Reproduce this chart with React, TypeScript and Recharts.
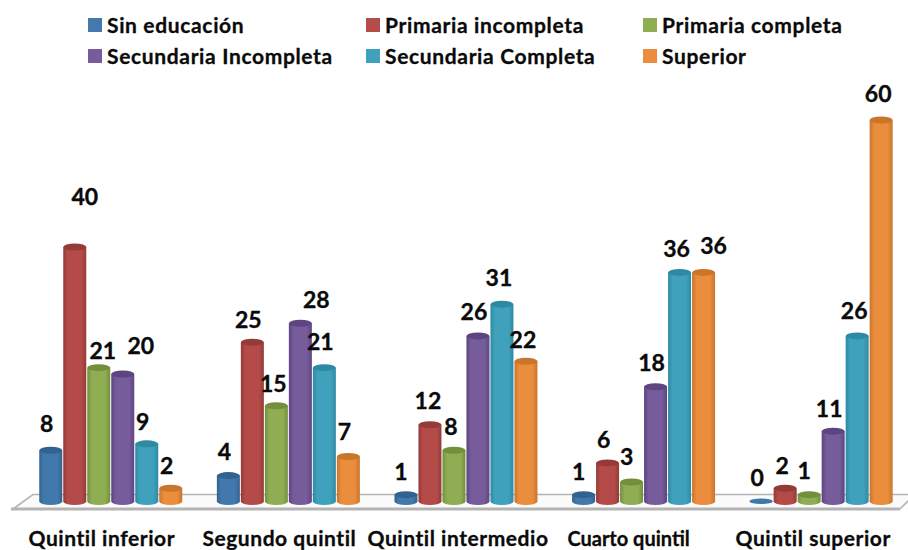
import { BarChart, Bar, XAxis, YAxis, LabelList, Legend, Customized } from "recharts"

const categories = ["Quintil inferior", "Segundo quintil", "Quintil intermedio", "Cuarto quintil", "Quintil superior"]
const sinEducacion = [8, 4, 1, 1, 0]
const primariaIncompleta = [40, 25, 12, 6, 2]
const primariaCompleta = [21, 15, 8, 3, 1]
const secundariaIncompleta = [20, 28, 26, 18, 11]
const secundariaCompleta = [9, 21, 31, 36, 26]
const superior = [2, 7, 22, 36, 60]

const seriesNames = ["Sin educación", "Primaria incompleta", "Primaria completa", "Secundaria Incompleta", "Secundaria Completa", "Superior"]
const seriesValues = [sinEducacion, primariaIncompleta, primariaCompleta, secundariaIncompleta, secundariaCompleta, superior]
const seriesColors = ["#4379ad", "#b54c4a", "#8fae52", "#775b9c", "#3fa1bc", "#ea8d3e"]
const seriesDark = ["#33628f", "#943a38", "#738f3e", "#5c4580", "#2f8aa3", "#c9752c"]

// hand placed data labels, the original chart had them dragged around
const labelNudgeX = [
  [-4, -4, -5, -5, -4],
  [10, -4, -2, -4, -3],
  [4, -3, -3, -5, -5],
  [18, 16, -4, -4, -4],
  [-4, -4, -3, -3, -3],
  [-4, -4, -3, 10, -3],
]
const labelNudgeY = [
  [-27, -25, -24, -24, -24],
  [-51, -23, -25, -24, -23],
  [-18, -23, -24, -26, -25],
  [-29, -24, -25, -25, -23],
  [-23, -27, -27, -24, -26],
  [-23, -26, -22, -27, -27],
]
const tickNudgeX = [-8, -8, -7, -14, -7]
const tickFontSize = [21, 21, 21, 20, 21]
const tickSpacing = [0.55, 0.55, 0.55, 0, 0.55]

const data = categories.map((name, i) => {
  const row: Record<string, string | number> = { name }
  seriesNames.forEach((s, k) => {
    row[s] = seriesValues[k][i]
  })
  return row
})

const FONT = "Lato, Carlito, sans-serif"

function cylinder(k: number) {
  return function CylinderBar(props: any) {
    const { x, y, width, height } = props
    const ry = height < 1 ? 2.5 : 3.5
    const bottom = y + height + 0.5
    const left = x + 0.5
    const right = x + width - 0.5
    const rx = (right - left) / 2
    const cx = left + rx
    return (
      <g filter="url(#soften)">
        <path
          d={`M${left},${y} L${left},${bottom} A${rx},${ry} 0 0 0 ${right},${bottom} L${right},${y} Z`}
          fill={`url(#cyl${k})`}
        />
        <ellipse cx={cx} cy={y} rx={rx} ry={ry} fill={height < 1 ? seriesColors[k] : seriesDark[k]} />
      </g>
    )
  }
}

function dataLabel(k: number) {
  return function DataLabel(props: any) {
    const { x, y, width, value, index } = props
    return (
      <text
        x={x + width / 2 + labelNudgeX[k][index]}
        y={y + labelNudgeY[k][index]}
        textAnchor="middle"
        dominantBaseline="central"
        fontFamily={FONT}
        fontWeight={700}
        fontSize={23}
        stroke="#0a0a0a"
        strokeWidth={0.35}
        fill="#0a0a0a"
      >
        {value}
      </text>
    )
  }
}

function CategoryTick(props: any) {
  const { x, payload, index } = props
  return (
    <text
      x={x + tickNudgeX[index]}
      y={537.5}
      textAnchor="middle"
      dominantBaseline="central"
      fontFamily={FONT}
      fontWeight={700}
      fontSize={tickFontSize[index]}
      letterSpacing={tickSpacing[index]}
      stroke="#0a0a0a"
      strokeWidth={0.3}
      fill="#0a0a0a"
    >
      {payload.value}
    </text>
  )
}

function Floor() {
  return (
    <g fill="none" stroke="#b4b4b4">
      <polygon points="13,509 33,494.5 912,494.5 912,494.5 900,509" fill="#fbfbfb" stroke="none" />
      <polyline points="13,509 33,494.5 912,494.5" strokeWidth={1.6} />
      <polyline points="900,509 910,499" strokeWidth={1.6} />
      <line x1={11} y1={509} x2={900} y2={509} strokeWidth={3} />
    </g>
  )
}

function Defs() {
  return (
    <defs>
      <filter id="soften" x="-10%" y="-10%" width="120%" height="120%">
        <feGaussianBlur stdDeviation={0.5} />
      </filter>
      {seriesColors.map((c, k) => (
        <linearGradient id={`cyl${k}`} key={c} x1="0" y1="0" x2="1" y2="0">
          <stop offset="0%" stopColor={seriesDark[k]} />
          <stop offset="20%" stopColor={c} />
          <stop offset="78%" stopColor={c} />
          <stop offset="100%" stopColor={seriesDark[k]} />
        </linearGradient>
      ))}
    </defs>
  )
}

function LegendBox() {
  return (
    <div
      style={{
        display: "grid",
        gridTemplateColumns: "278px 277px 200px",
        rowGap: 7,
        fontFamily: FONT,
        fontWeight: 700,
        fontSize: 21,
        letterSpacing: 0.65,
        lineHeight: "24px",
        color: "#0a0a0a",
        textAlign: "left",
        WebkitTextStroke: "0.3px #0a0a0a",
      }}
    >
      {seriesNames.map((s, k) => (
        <div key={s} style={{ display: "flex", alignItems: "center", whiteSpace: "nowrap" }}>
          <span style={{ width: 14, height: 14, background: seriesColors[k], marginRight: 5 }} />
          {s}
        </div>
      ))}
    </div>
  )
}

export default function App() {
  return (
    <div style={{ position: "absolute", left: 0, top: 0, width: 908, height: 550, overflow: "hidden", background: "#fff" }}>
      <BarChart
        width={911}
        height={550}
        data={data}
        margin={{ top: 65, right: 2, bottom: 0, left: 21 }}
        barCategoryGap="10%"
        barGap={0}
      >
        <Defs />
        <Customized component={Floor} />
        <XAxis dataKey="name" height={49} axisLine={false} tickLine={false} tick={<CategoryTick />} interval={0} />
        <YAxis hide domain={[0, 60]} />
        <Legend
          content={<LegendBox />}
          layout="horizontal"
          verticalAlign="top"
          wrapperStyle={{ position: "absolute", left: 88, top: 13, width: 760 }}
        />
        {seriesNames.map((s, k) => (
          <Bar key={s} dataKey={s} fill={seriesColors[k]} shape={cylinder(k)} isAnimationActive={false}>
            <LabelList dataKey={s} content={dataLabel(k)} />
          </Bar>
        ))}
      </BarChart>
    </div>
  )
}
